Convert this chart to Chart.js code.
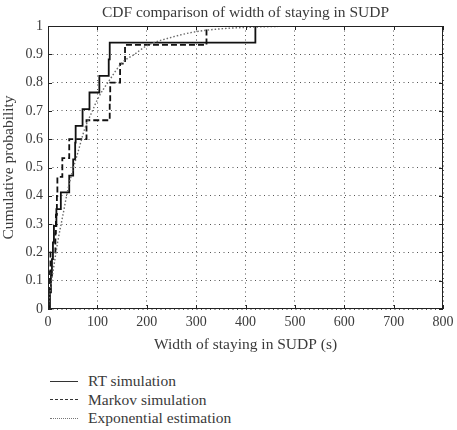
<!DOCTYPE html>
<html>
<head>
<meta charset="utf-8">
<script src="https://cdn.jsdelivr.net/npm/chart.js@4.4.0/dist/chart.umd.min.js"></script>
<style>
  body { margin: 0; background: #fff; font-family: "Liberation Serif", serif; color: #3a3a3a; }
  #caixa { position: relative; width: 457px; height: 362px; }
  #legenda { position: absolute; left: 50px; top: 372px; font-size: 15.5px; }
  .item { height: 18.5px; display: flex; align-items: center; }
  .amostra { width: 28px; margin-right: 10px; border-top: 1.5px solid #333; }
</style>
</head>
<body>
<div id="caixa"><canvas id="graficoCdf"></canvas></div>
<div id="legenda">
  <div class="item"><span class="amostra"></span>RT simulation</div>
  <div class="item"><span class="amostra" style="border-top-style: dashed;"></span>Markov simulation</div>
  <div class="item"><span class="amostra" style="border-top: 1.5px dotted #777;"></span>Exponential estimation</div>
</div>
<script>
// RT simulation (CDF empirica, 17 amostras)
const rtTempo = [0, 4, 6, 8, 10, 12, 17, 26, 43, 51, 55, 56, 70, 84, 104, 123, 125, 420];
const rtProb = [0, 0.059, 0.118, 0.176, 0.235, 0.294, 0.353, 0.412, 0.471, 0.529, 0.588, 0.647, 0.706, 0.765, 0.824, 0.882, 0.941, 1];

// Markov simulation (15 amostras)
const markovTempo = [0, 2, 4, 5, 15, 16, 18, 19, 29, 43, 78, 125, 126, 146, 156, 321];
const markovProb = [0, 0.067, 0.133, 0.2, 0.267, 0.333, 0.4, 0.467, 0.533, 0.6, 0.667, 0.733, 0.8, 0.867, 0.933, 1];

// Exponential estimation
const expTempo = [0, 5, 10, 20, 30, 40, 50, 60, 75, 90, 100, 125, 150, 175, 200, 250, 300, 350, 400, 500];
const expProb = [0, 0.07, 0.13, 0.24, 0.33, 0.42, 0.49, 0.55, 0.64, 0.7, 0.74, 0.81, 0.87, 0.9, 0.93, 0.96, 0.98, 0.99, 0.995, 1];

const xRotulos = ["0", "100", "200", "300", "400", "500", "600", "700", "800"];
const yRotulos = ["0", "0.1", "0.2", "0.3", "0.4", "0.5", "0.6", "0.7", "0.8", "0.9", "1"];

function juntar(xs, ys) {
  let pontos = [];
  for (let i = 0; i < xs.length; i++) {
    pontos.push({ x: xs[i], y: ys[i] });
  }
  return pontos;
}

const fonte = "Liberation Serif";
const corTexto = "#3a3a3a";

// moldura fechada e marcas para dentro (estilo MATLAB)
const moldura = {
  id: "moldura",
  afterLayout(chart) {
    // centraliza o titulo sobre a area do grafico
    if (chart.titleBlock) {
      chart.titleBlock.left = chart.chartArea.left;
      chart.titleBlock.right = chart.chartArea.right;
    }
  },
  afterDatasetsDraw(chart) {
    const { ctx, chartArea: a, scales } = chart;
    ctx.save();
    ctx.setLineDash([]);
    ctx.strokeStyle = "#222";
    ctx.lineWidth = 1;
    ctx.strokeRect(a.left + 0.5, a.top + 0.5, a.right - a.left - 1, a.bottom - a.top - 1);
    ctx.beginPath();
    scales.x.ticks.forEach(function (t) {
      const px = Math.round(scales.x.getPixelForValue(t.value)) + 0.5;
      ctx.moveTo(px, a.bottom); ctx.lineTo(px, a.bottom - 4);
      ctx.moveTo(px, a.top); ctx.lineTo(px, a.top + 4);
    });
    scales.y.ticks.forEach(function (t) {
      const py = Math.round(scales.y.getPixelForValue(t.value)) + 0.5;
      ctx.moveTo(a.left, py); ctx.lineTo(a.left + 4, py);
      ctx.moveTo(a.right, py); ctx.lineTo(a.right - 4, py);
    });
    ctx.stroke();
    ctx.restore();
  },
};

new Chart(document.getElementById("graficoCdf"), {
  type: "line",
  data: {
    datasets: [
      {
        label: "Exponential estimation",
        data: juntar(expTempo, expProb),
        borderColor: "#6a6a6a",
        borderWidth: 1.4,
        borderDash: [1.5, 2], // pontilhada
        cubicInterpolationMode: "monotone",
        fill: false,
        pointRadius: 0,
      },
      {
        label: "Markov simulation",
        data: juntar(markovTempo, markovProb),
        borderColor: "#111",
        borderWidth: 1.8,
        borderDash: [6, 3], // tracejada
        stepped: true,
        fill: false,
        pointRadius: 0,
      },
      {
        label: "RT simulation",
        data: juntar(rtTempo, rtProb),
        borderColor: "#111",
        borderWidth: 1.8,
        stepped: true,
        fill: false,
        pointRadius: 0,
      },
    ],
  },
  plugins: [moldura],
  options: {
    responsive: true,
    maintainAspectRatio: false,
    animation: false,
    layout: { autoPadding: false, padding: { right: 14, left: 0, top: 0, bottom: 0 } },
    plugins: {
      legend: { display: false },
      tooltip: { enabled: false },
      title: {
        display: true,
        text: "CDF comparison of width of staying in SUDP",
        color: corTexto,
        font: { family: fonte, size: 15.5, weight: "normal" },
        padding: { top: 4, bottom: 3.4 },
      },
    },
    scales: {
      x: {
        type: "linear",
        min: 0,
        max: 800,
        afterFit: function (scale) {
          scale.height = 53;
          scale.paddingRight = 0;
          scale.paddingLeft = 0;
        },
        ticks: {
          stepSize: 100,
          padding: 5,
          color: corTexto,
          font: { family: fonte, size: 14 },
          callback: function (v, i) { return xRotulos[i]; },
        },
        grid: { color: "#555", lineWidth: 1, drawTicks: false },
        border: { display: false, dash: [1, 3.5] },
        title: {
          display: true,
          text: "Width of staying in SUDP (s)",
          color: corTexto,
          font: { family: fonte, size: 15.5 },
          padding: { top: 0, bottom: 7.7 },
        },
      },
      y: {
        min: 0,
        max: 1,
        afterFit: function (scale) {
          scale.width = 48;
          scale.paddingTop = 0;
          scale.paddingBottom = 0;
        },
        ticks: {
          stepSize: 0.1,
          padding: 5,
          color: corTexto,
          font: { family: fonte, size: 14 },
          callback: function (v, i) { return yRotulos[i]; },
        },
        grid: { color: "#555", lineWidth: 1, drawTicks: false },
        border: { display: false, dash: [1, 3.5] },
        title: {
          display: true,
          text: "Cumulative probability",
          color: corTexto,
          font: { family: fonte, size: 15.5 },
          padding: { top: 0, bottom: 0 },
        },
      },
    },
  },
});
</script>
</body>
</html>
